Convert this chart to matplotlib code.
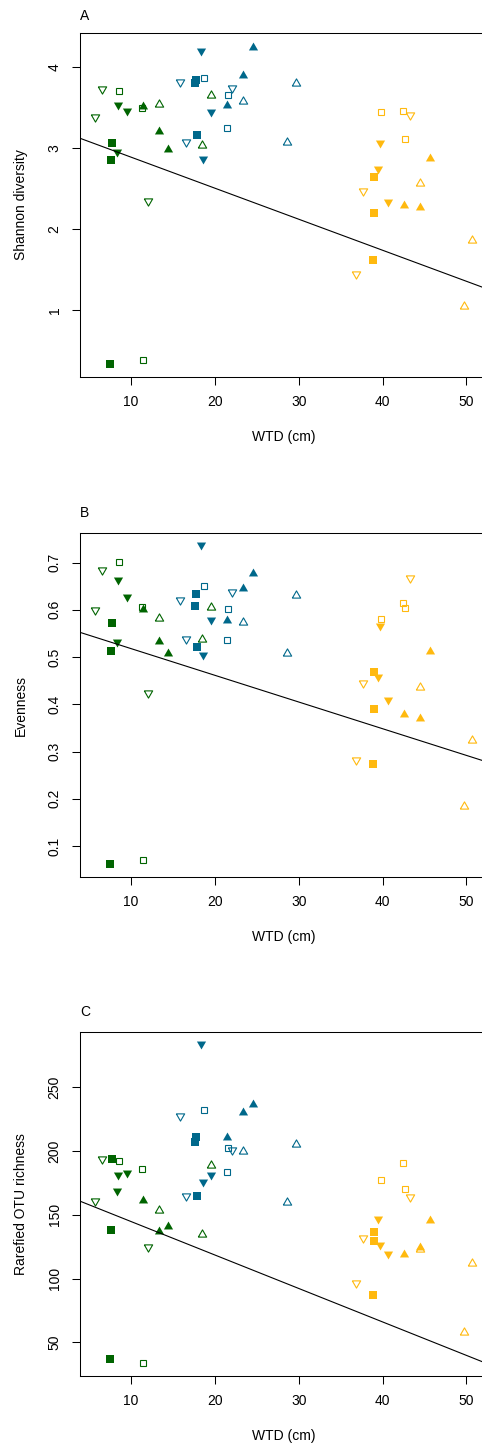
import matplotlib.pyplot as plt
import numpy as np

plt.rcParams['font.family'] = ['Liberation Sans', 'DejaVu Sans']
plt.rcParams['font.size'] = 10

#==============================================================================
# data: 3 sites x 6 plot types x 3 replicates

site = ['g'] * 18 + ['b'] * 18 + ['o'] * 18
symbol = (['fsq'] * 3 + ['osq'] * 3 + ['fdn'] * 3 + ['odn'] * 3
          + ['fup'] * 3 + ['oup'] * 3) * 3

wtd = [7.77, 7.65, 7.53, 8.57, 11.27, 11.47, 8.49, 9.49, 8.29,
       6.50, 5.70, 11.99, 11.47, 13.30, 14.38, 13.30, 18.47, 19.47,
       17.79, 17.67, 17.91, 18.67, 21.58, 21.42, 18.35, 19.58, 18.63,
       15.81, 22.09, 16.60, 24.52, 23.40, 21.49, 29.61, 23.40, 28.57,
       39.03, 38.96, 38.84, 39.79, 42.49, 42.70, 39.71, 39.47, 40.63,
       43.21, 37.72, 36.88, 45.60, 42.61, 44.52, 44.52, 50.69, 49.70]

shannon = [3.06, 2.86, 0.34, 3.71, 3.50, 0.39, 3.52, 3.45, 2.94,
           3.72, 3.37, 2.34, 3.53, 3.23, 3.00, 3.56, 3.05, 3.67,
           3.84, 3.81, 3.16, 3.87, 3.65, 3.25, 4.19, 3.43, 2.86,
           3.80, 3.73, 3.07, 4.26, 3.92, 3.54, 3.82, 3.59, 3.09,
           2.64, 2.20, 1.62, 3.45, 3.46, 3.11, 3.05, 2.73, 2.33,
           3.40, 2.46, 1.44, 2.89, 2.31, 2.29, 2.58, 1.88, 1.07]

evenness = [0.573, 0.512, 0.062, 0.701, 0.606, 0.071, 0.660, 0.624, 0.529,
            0.683, 0.598, 0.421, 0.604, 0.536, 0.511, 0.585, 0.541, 0.609,
            0.633, 0.609, 0.522, 0.650, 0.601, 0.537, 0.735, 0.576, 0.503,
            0.619, 0.636, 0.536, 0.681, 0.649, 0.581, 0.633, 0.577, 0.511,
            0.469, 0.389, 0.274, 0.581, 0.614, 0.604, 0.564, 0.455, 0.408,
            0.665, 0.444, 0.281, 0.515, 0.382, 0.374, 0.439, 0.326, 0.186]

richness = [193.4, 138.4, 37.0, 191.9, 186.1, 33.9, 180.6, 181.7, 168.0,
            192.9, 159.9, 124.0, 162.5, 137.9, 141.8, 154.2, 135.8, 189.8,
            211.3, 207.3, 164.4, 232.5, 202.6, 183.2, 283.1, 180.3, 175.1,
            226.5, 200.3, 164.1, 238.0, 231.4, 211.8, 206.0, 200.8, 160.7,
            136.9, 129.8, 87.3, 177.0, 190.3, 169.9, 125.8, 145.8, 118.8,
            163.3, 130.8, 96.0, 146.5, 120.1, 125.3, 124.0, 113.0, 58.7]

# fitted lines (intercept, slope) against WTD
fit_shannon = (3.272, -0.03825)
fit_evenness = (0.5743, -0.00565)
fit_richness = (170.95, -2.622)

#==============================================================================
# styles

colors = {'g': '#006400', 'b': '#00688B', 'o': '#FFB90F'}

tri_up = [(-1, -0.866), (1, -0.866), (0, 0.866), (-1, -0.866)]
tri_dn = [(-1, 0.866), (1, 0.866), (0, -0.866), (-1, 0.866)]
# marker, size, filled
symbols = {'fsq': ('s', 5.2, True), 'osq': ('s', 4.4, False),
           'fup': (tri_up, 6.6, True), 'oup': (tri_up, 6.0, False),
           'fdn': (tri_dn, 6.6, True), 'odn': (tri_dn, 6.0, False)}

panels = [('A', 'Shannon diversity', shannon, fit_shannon, [1, 2, 3, 4], 17),
          ('B', 'Evenness', evenness, fit_evenness,
           [0.1, 0.2, 0.3, 0.4, 0.5, 0.6, 0.7], 20.5),
          ('C', 'Rarefied OTU richness', richness, fit_richness,
           [50, 100, 150, 200, 250], 20.5)]


def pad_range(v, frac=0.04):
    # R style axis range: data range stretched 4% each side
    lo, hi = min(v), max(v)
    d = (hi - lo) * frac
    return lo - d, hi + d

#==============================================================================

W, H = 482, 1443
fig = plt.figure(figsize=(W / 100, H / 100), dpi=100)

ax_left = 80
ax_w = 407.3
ax_h = 343.4
ax_bottoms = [376.7, 876.7, 1375.7]

for i, (letter, ylab, yvals, fit, yticks, dy) in enumerate(panels):
    ax = fig.add_axes([ax_left / W, 1 - ax_bottoms[i] / H, ax_w / W, ax_h / H])

    for s, m, x, y in zip(site, symbol, wtd, yvals):
        mk, ms, filled = symbols[m]
        ax.plot(x, y, linestyle='none', marker=mk, ms=ms,
                mfc=colors[s] if filled else 'none', mec=colors[s],
                mew=0.0 if filled else 0.8)

    ax.axline((0, fit[0]), slope=fit[1], color='black', lw=0.8)
    ax.set_xlim(pad_range(wtd))
    ax.set_ylim(pad_range(yvals))

    ax.set_xticks([10, 20, 30, 40, 50])
    ax.set_yticks(yticks)
    ax.set_yticklabels([f'{t:g}' for t in yticks], rotation=90, va='center')
    ax.tick_params(direction='out', length=5.8, width=0.75, pad=7.5,
                   labelsize=10)
    for sp in ax.spines.values():
        sp.set_linewidth(0.75)

    ax.set_xlabel('WTD (cm)')
    ax.xaxis.set_label_coords(0.5, -60 / ax_h)
    ax.xaxis.label.set_va('center')
    ax.set_ylabel(ylab)
    ax.yaxis.set_label_coords(-59 / ax_w, 0.5)
    ax.yaxis.label.set_va('center')

    ax.text(0, 1 + dy / ax_h, letter, transform=ax.transAxes,
            ha='left', va='center', fontsize=10)

fig.savefig('out.png', dpi=100)
